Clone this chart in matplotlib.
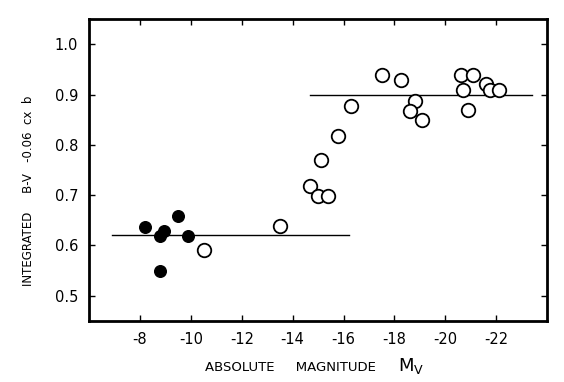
import matplotlib
matplotlib.use("Agg")
import matplotlib.pyplot as plt

# filled circles
filled_mv = [-8.2, -8.95, -8.8, -9.5, -9.9, -8.8]
filled_bv = [0.636, 0.628, 0.619, 0.659, 0.619, 0.549]

# open circles
open_mv = [-10.5, -13.5, -14.7, -15.0, -15.1, -15.4, -15.8, -16.3,
           -17.5, -18.25, -18.8, -18.6, -19.1,
           -20.6, -21.1, -20.7, -20.9, -21.6, -21.75, -22.1]
open_bv = [0.590, 0.639, 0.719, 0.698, 0.769, 0.698, 0.817, 0.878,
           0.938, 0.928, 0.888, 0.868, 0.850,
           0.939, 0.939, 0.909, 0.870, 0.920, 0.909, 0.909]

# mean levels
low_x = [-6.9, -16.2]
low_y = [0.62, 0.62]
high_x = [-14.7, -23.4]
high_y = [0.90, 0.90]

xticks = [-8, -10, -12, -14, -16, -18, -20, -22]
yticks = [0.5, 0.6, 0.7, 0.8, 0.9, 1.0]

fig = plt.figure(figsize=(5.64, 3.82), dpi=100)
ax = fig.add_axes([0.158, 0.16, 0.812, 0.79])

ax.plot(low_x, low_y, color="black", lw=1.0)
ax.plot(high_x, high_y, color="black", lw=1.0)
ax.scatter(filled_mv, filled_bv, s=70, color="black", zorder=3)
ax.scatter(open_mv, open_bv, s=95, facecolor="white", edgecolor="black",
           linewidth=1.3, zorder=3)

ax.set_xlim(-6, -24)
ax.set_ylim(0.45, 1.05)
ax.set_xticks(xticks)
ax.set_xticklabels(["-8", "-10", "-12", "-14", "-16", "-18", "-20", "-22"])
ax.set_yticks(yticks)
ax.set_yticklabels(["0.5", "0.6", "0.7", "0.8", "0.9", "1.0"])
ax.tick_params(direction="in", top=True, right=True, length=4, width=1,
               labelsize=10.5, pad=8)
for s in ax.spines.values():
    s.set_linewidth(2)

# x label with a larger M_V beside it
fig.text(0.363, 0.03, "ABSOLUTE     MAGNITUDE", fontsize=9.5, va="baseline")
fig.text(0.705, 0.03, r"$\mathregular{M}_{\mathregular{V}}$", fontsize=13,
         va="baseline")
ax.set_ylabel("INTEGRATED     B-V   -0.06  cx  b", fontsize=8.5)
ax.yaxis.set_label_coords(-0.118, 0.43)

fig.savefig("out.png", dpi=100)
